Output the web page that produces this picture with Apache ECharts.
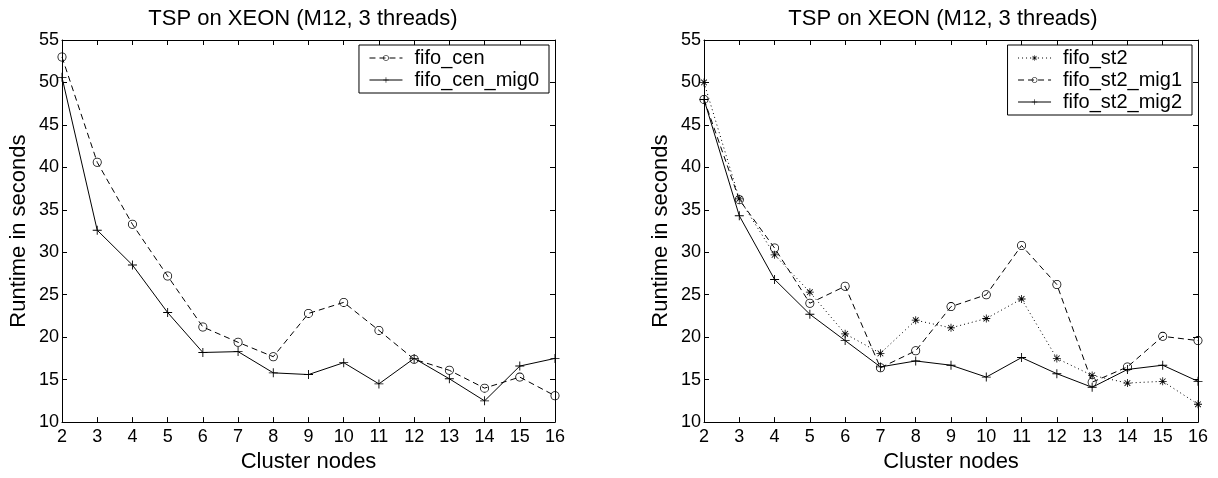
<!DOCTYPE html>
<html>
<head>
<meta charset="utf-8">
<script src="https://cdn.jsdelivr.net/npm/echarts@6/dist/echarts.min.js"></script>
<style>
  html, body { margin: 0; padding: 0; background: #fff; }
  #main { width: 1218px; height: 478px; }
</style>
</head>
<body>
<div id="main"></div>
<script>
// cluster node counts (x axis)
const nodes = [2, 3, 4, 5, 6, 7, 8, 9, 10, 11, 12, 13, 14, 15, 16];

// left panel
const fifoCen = [53.0, 40.6, 33.3, 27.2, 21.2, 19.4, 17.7, 22.8, 24.1, 20.8, 17.4, 16.1, 14.0, 15.3, 13.1];
const fifoCenMig0 = [50.6, 32.6, 28.5, 22.9, 18.2, 18.3, 15.8, 15.6, 17.0, 14.5, 17.5, 15.1, 12.5, 16.6, 17.5];

// right panel
const fifoSt2 = [50.0, 36.3, 29.7, 25.3, 20.4, 18.1, 22.0, 21.1, 22.2, 24.5, 17.5, 15.5, 14.6, 14.8, 12.1];
const fifoSt2Mig1 = [48.0, 36.2, 30.5, 24.0, 26.0, 16.4, 18.4, 23.6, 25.0, 30.8, 26.2, 14.7, 16.5, 20.1, 19.6];
const fifoSt2Mig2 = [48.0, 34.3, 26.8, 22.7, 19.6, 16.5, 17.2, 16.7, 15.3, 17.6, 15.7, 14.1, 16.2, 16.7, 14.8];

const titleText = 'TSP on XEON (M12, 3 threads)';
const xName = 'Cluster nodes';
const yName = 'Runtime in seconds';

const FONT = 'Liberation Sans, Arial, sans-serif';
// thin matlab-like markers as filled paths (ring is open in the middle)
const ringSym = 'path://M-5,0A5,5 0 1,0 5,0A5,5 0 1,0 -5,0Z M-4.1,0A4.1,4.1 0 1,1 4.1,0A4.1,4.1 0 1,1 -4.1,0Z';
const plusSym = 'path://M-0.5,-5L0.5,-5L0.5,5L-0.5,5Z M-5,-0.5L5,-0.5L5,0.5L-5,0.5Z';
const starSym = 'path://M-0.5,-5L0.5,-5L0.5,5L-0.5,5Z M-5,-0.5L5,-0.5L5,0.5L-5,0.5Z ' +
  'M-3.2,-3.9L3.9,3.2L3.2,3.9L-3.9,-3.2Z M3.2,-3.9L3.9,-3.2L-3.2,3.9L-3.9,3.2Z';

const chart = echarts.init(document.getElementById('main'), null, { renderer: 'canvas' });

function pts(arr) {
  return nodes.map((n, i) => [n, arr[i]]);
}

function xAxes(gi) {
  const base = {
    type: 'value', gridIndex: gi, min: 2, max: 16, interval: 1,
    splitLine: { show: false },
    axisLine: { lineStyle: { color: '#000', width: 1 } },
    axisTick: { inside: true, length: 5, lineStyle: { color: '#000' } }
  };
  return [
    Object.assign({}, base, {
      position: 'bottom',
      name: xName, nameLocation: 'middle', nameGap: 28,
      nameTextStyle: { fontSize: 22, color: '#000', fontFamily: FONT },
      axisLabel: { fontSize: 18, color: '#000', margin: 6, fontFamily: FONT }
    }),
    Object.assign({}, base, { position: 'top', axisLabel: { show: false } })
  ];
}

function yAxes(gi) {
  const base = {
    type: 'value', gridIndex: gi, min: 10, max: 55, interval: 5,
    splitLine: { show: false },
    axisLine: { lineStyle: { color: '#000', width: 1 } },
    axisTick: { inside: true, length: 5, lineStyle: { color: '#000' } }
  };
  return [
    Object.assign({}, base, {
      position: 'left',
      name: yName, nameLocation: 'middle', nameGap: 32,
      nameTextStyle: { fontSize: 22, color: '#000', fontFamily: FONT },
      axisLabel: { fontSize: 18, color: '#000', margin: 3, fontFamily: FONT }
    }),
    Object.assign({}, base, { position: 'right', axisLabel: { show: false } })
  ];
}

function lineSeries(name, arr, gi, dash, symbol, size) {
  return {
    name: name, type: 'line', data: pts(arr),
    xAxisIndex: gi * 2, yAxisIndex: gi * 2,
    symbol: symbol, symbolSize: size, showAllSymbol: true,
    itemStyle: { color: '#000', borderWidth: 0 },
    lineStyle: { color: '#000', width: 1, type: dash },
    animation: false, z: 3
  };
}

const legendBase = {
  orient: 'vertical', top: 45,
  backgroundColor: '#fff', borderColor: '#000', borderWidth: 1, borderRadius: 0,
  padding: [3, 10, 3, 10], itemGap: 2, itemWidth: 33, itemHeight: 7,
  itemStyle: { borderWidth: 0 },
  lineStyle: { width: 1 },
  textStyle: { fontSize: 20, color: '#000', fontFamily: FONT, padding: [0, 0, 0, 7] },
  selectedMode: false
};

const option = {
  animation: false,
  backgroundColor: '#fff',
  title: [
    { text: titleText, left: 298, top: 3, textAlign: 'center',
      textStyle: { fontSize: 22, fontWeight: 'normal', color: '#000', fontFamily: FONT } },
    { text: titleText, left: 938, top: 3, textAlign: 'center',
      textStyle: { fontSize: 22, fontWeight: 'normal', color: '#000', fontFamily: FONT } }
  ],
  grid: [
    { left: 62, right: 663, top: 40, bottom: 49 },
    { left: 704, right: 20, top: 40, bottom: 49 }
  ],
  legend: [
    Object.assign({}, legendBase, { right: 669, data: ['fifo_cen', 'fifo_cen_mig0'] }),
    Object.assign({}, legendBase, { right: 26, data: ['fifo_st2', 'fifo_st2_mig1', 'fifo_st2_mig2'] })
  ],
  xAxis: xAxes(0).concat(xAxes(1)),
  yAxis: yAxes(0).concat(yAxes(1)),
  series: [
    lineSeries('fifo_cen', fifoCen, 0, [6, 4], ringSym, 9),
    lineSeries('fifo_cen_mig0', fifoCenMig0, 0, 'solid', plusSym, 9),
    lineSeries('fifo_st2', fifoSt2, 1, [1, 3], starSym, 8),
    lineSeries('fifo_st2_mig1', fifoSt2Mig1, 1, [6, 4], ringSym, 9),
    lineSeries('fifo_st2_mig2', fifoSt2Mig2, 1, 'solid', plusSym, 9)
  ]
};

chart.setOption(option);
</script>
</body>
</html>
